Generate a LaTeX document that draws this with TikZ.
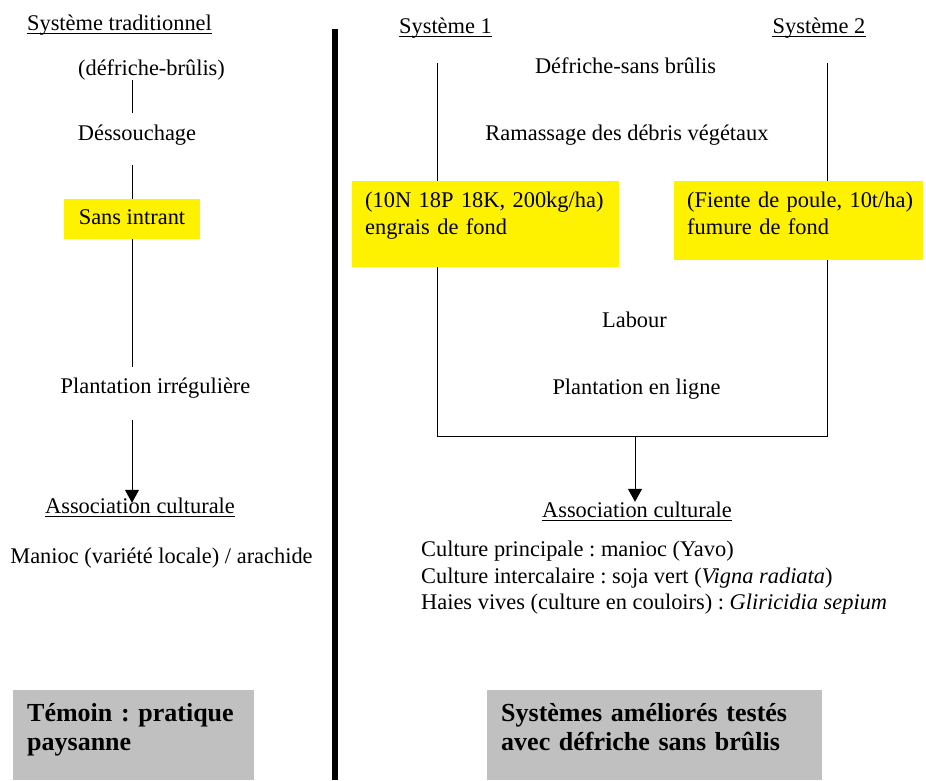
\documentclass[tikz,border=0pt]{standalone}
\usepackage{fontspec}
\setmainfont{Liberation Serif}
\usetikzlibrary{arrows.meta}
\definecolor{grisclair}{RGB}{192,192,192}
\newcommand{\etirer}[1]{\rule[-#1]{0pt}{#1}}
\frenchspacing

\begin{document}
\begin{tikzpicture}[x=1pt, y=-1pt,
        lettre/.style={inner sep=0pt, font=\fontsize{22.4}{26.5}\selectfont},
        texte/.style={lettre, text height=15.5pt, text depth=4.5pt},
        souligne/.style={texte, append after command={[line width=1pt] ([yshift=-2.5pt]\tikzlastnode.base west) edge ([yshift=-2.5pt]\tikzlastnode.base east)}},
        jaune/.style={texte, fill=yellow, minimum width=136pt, minimum height=40pt},
        bloc/.style={fill=yellow, anchor=north west, align=left, inner xsep=13pt, inner ysep=11pt, font=\fontsize{22.4}{26.5}\selectfont},
        gris/.style={fill=grisclair, anchor=north west, align=left, inner xsep=14pt, inner ysep=13.5pt, font=\fontsize{26}{29}\selectfont\bfseries},
        trait/.style={line width=1pt},
        fleche/.style={trait, -{Triangle[width=14pt, length=13pt]}},
        separateur/.style={line width=6pt}]
        \useasboundingbox (0,0) rectangle (926,780);
        \node[souligne] (trad) at (119.5, 25) {Système traditionnel};
        \node[texte] (brulis) at (151.5, 70) {(défriche-brûlis)};
        \node[texte] (dessouch) at (137, 135) {Déssouchage};
        \node[jaune] (sansintr) at (132, 219) {Sans intrant};
        \node[texte] (plantirr) at (155.5, 388) {Plantation irrégulière};
        \node[souligne] (assocT) at (140, 508) {Association culturale};
        \node[texte] (manioc) at (161.5, 558) {Manioc (variété locale) / arachide};
        \node[gris, text width=213pt] (temoin) at (13, 690) {Témoin : pratique\\paysanne\etirer{15.5pt}};
        \draw[trait] (sansintr |- brulis.south) -- ([yshift=12pt]sansintr |- dessouch.north);
        \draw[trait] ([yshift=-20pt]sansintr |- dessouch.south) -- (sansintr.north);
        \draw[trait] (sansintr.south) -- ([yshift=11pt]sansintr |- plantirr.north);
        \draw[fleche] ([yshift=-22pt]sansintr |- plantirr.south) -- ([yshift=-5pt]sansintr |- assocT.north);
        \draw[separateur] (335, 29) -- (335, 780);
        \node[souligne] (sysun) at (445.5, 28) {Système 1};
        \node[souligne] (sysdeux) at (819, 28) {Système 2};
        \node[texte] (defriche) at (625.5, 68) {Défriche-sans brûlis};
        \node[texte] (ramassage) at (627, 135) {Ramassage des débris végétaux};
        \node[bloc, text width=241pt] (engrais) at (352, 181) {\mbox{(10N 18P 18K, 200kg/ha)}\\engrais de fond\etirer{22pt}};
        \node[bloc, text width=223pt] (fumure) at (674, 181) {\mbox{(Fiente de poule, 10t/ha)}\\fumure de fond\etirer{15pt}};
        \node[texte] (labour) at (634.5, 322) {Labour};
        \node[texte] (plantlig) at (636.5, 389) {Plantation en ligne};
        \node[souligne] (assoc) at (637, 512) {Association culturale};
        \node[lettre, anchor=north west, align=left] (cultures) at (421, 541) {Culture principale : manioc (Yavo)\\Culture intercalaire : soja vert (\textit{Vigna radiata})\\Haies vives (culture en couloirs) : \textit{Gliricidia sepium}};
        \node[gris, text width=307pt] (ameliores) at (487, 690) {Systèmes améliorés testés\\avec défriche sans brûlis\etirer{15.5pt}};
        \coordinate (axeun) at (437, 63);
        \coordinate (axedeux) at (827, 63);
        \coordinate (fond) at (635, 436);
        \draw[trait] (axeun) -- (axeun |- engrais.north);
        \draw[trait] (axedeux) -- (axedeux |- fumure.north);
        \draw[trait] (axeun |- engrais.south) |- (axedeux |- fond) -- (axedeux |- fumure.south);
        \draw[fleche] (fond) -- (fond |- assoc.north);
    \end{tikzpicture}
\end{document}
